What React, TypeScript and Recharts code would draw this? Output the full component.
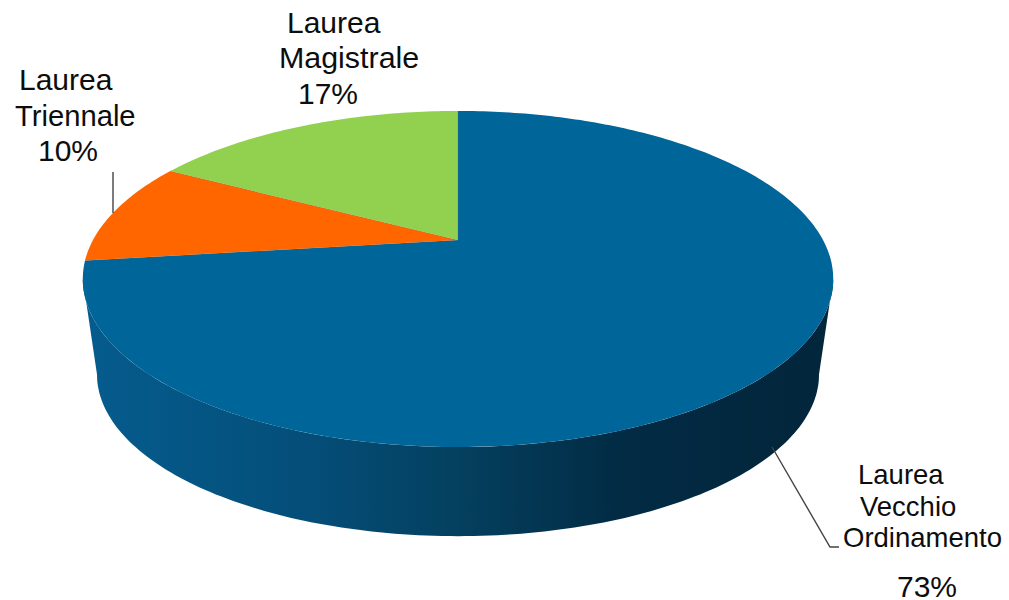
import { PieChart, Pie } from 'recharts';

const categories = ['Laurea Vecchio Ordinamento', 'Laurea Triennale', 'Laurea Magistrale'];
const shares = [73, 10, 17];
const sliceColors = ['#006598', '#ff6600', '#92d050'];

// label text broken the way the picture breaks it
const labelLines = [
  ['Laurea', 'Vecchio', 'Ordinamento'],
  ['Laurea', 'Triennale'],
  ['Laurea', 'Magistrale'],
];

const chartData = categories.map((name, i) => ({ name, value: shares[i] }));

// where each text line sits: [x, baseline, fontSize]
const labelPlacement = [
  [[858, 484, 27.5], [860, 516, 27.5], [843, 547, 27.5], [897, 597, 30]],
  [[19, 90, 30], [15, 126, 29.2], [38, 161, 30]],
  [[287, 33, 30], [279, 68, 30.4], [298, 104, 30]],
];
const leaderLines = ['772,447 830,547 839,547', '113,172 113,213', ''];

const TILT = 0.4356; // vertical squash of the disc
const PERSPECTIVE = 0.232; // far edge is shorter than the near edge
const DEPTH = 97;
const BASE_SCALE = 0.962;
const EDGE = 103.4; // clock angle where the rim is widest

// clock angle (0 at 12 o'clock, clockwise) -> point on the projected rim
function rimPoint(cx: number, cy: number, r: number, clock: number, scale = 1, dy = 0) {
  const t = (clock * Math.PI) / 180;
  const w = 1 + PERSPECTIVE * Math.cos(t);
  return [cx + (scale * r * Math.sin(t)) / w, cy + dy - (scale * r * TILT * Math.cos(t)) / w];
}

function arcPoints(cx: number, cy: number, r: number, from: number, to: number, scale = 1, dy = 0) {
  const pts: string[] = [];
  const n = Math.max(2, Math.ceil(Math.abs(to - from)));
  for (let i = 0; i <= n; i++) {
    const p = rimPoint(cx, cy, r, from + ((to - from) * i) / n, scale, dy);
    pts.push(`${p[0].toFixed(1)},${p[1].toFixed(1)}`);
  }
  return pts;
}

function Slice3D(props: any) {
  const { cx, cy, outerRadius, startAngle, endAngle, fill } = props;
  const from = 90 - startAngle;
  const to = 90 - endAngle;
  const wallFrom = Math.max(from, EDGE);
  const wallTo = Math.min(to, 360 - EDGE);
  const top = arcPoints(cx, cy, outerRadius, from, to);
  return (
    <g>
      <defs>
        <linearGradient id="wallShade" gradientUnits="userSpaceOnUse" x1="83" y1="0" x2="833" y2="0">
          <stop offset="0" stopColor="#055c8e" />
          <stop offset="0.3" stopColor="#044e79" />
          <stop offset="0.5" stopColor="#04405f" />
          <stop offset="0.72" stopColor="#022b44" />
          <stop offset="1" stopColor="#02263b" />
        </linearGradient>
      </defs>
      {wallTo > wallFrom && (
        <polygon
          fill="url(#wallShade)"
          points={[
            ...arcPoints(cx, cy, outerRadius, wallFrom, wallTo),
            ...arcPoints(cx, cy, outerRadius, wallTo, wallFrom, BASE_SCALE, DEPTH),
          ].join(' ')}
        />
      )}
      <polygon fill={fill} points={[`${cx},${cy}`, ...top].join(' ')} />
      {/* thin grey seam between slices */}
      <polyline
        fill="none"
        stroke="#66707a"
        strokeOpacity={0.4}
        strokeWidth={0.8}
        points={[top[top.length - 1], `${cx},${cy}`].join(' ')}
      />
    </g>
  );
}

function SliceLabel(props: any) {
  const { index, value } = props;
  const lines = [...labelLines[index], `${value}%`];
  return (
    <g>
      {leaderLines[index] && (
        <polyline points={leaderLines[index]} fill="none" stroke="#444" strokeWidth={1.4} />
      )}
      {lines.map((line, i) => {
        const [x, y, size] = labelPlacement[index][i];
        return (
          <text key={i} x={x} y={y} fontSize={size} fill="#0d0d0d" fontFamily="'Liberation Sans', Arial, sans-serif">
            {line}
          </text>
        );
      })}
    </g>
  );
}

export default function App() {
  const dataWithFill = chartData.map((d, i) => ({ ...d, fill: sliceColors[i] }));
  return (
    <div style={{ position: 'absolute', left: 0, top: 0, width: 1009, height: 600 }}>
      <PieChart width={1009} height={600} margin={{ top: 0, right: 0, bottom: 0, left: 0 }}>
        <Pie
          data={dataWithFill}
          dataKey="value"
          nameKey="name"
          cx={458}
          cy={240}
          outerRadius={365}
          startAngle={90}
          endAngle={-270}
          stroke="none"
          shape={Slice3D}
          label={SliceLabel}
          labelLine={false}
          isAnimationActive={false}
        />
      </PieChart>
    </div>
  );
}
